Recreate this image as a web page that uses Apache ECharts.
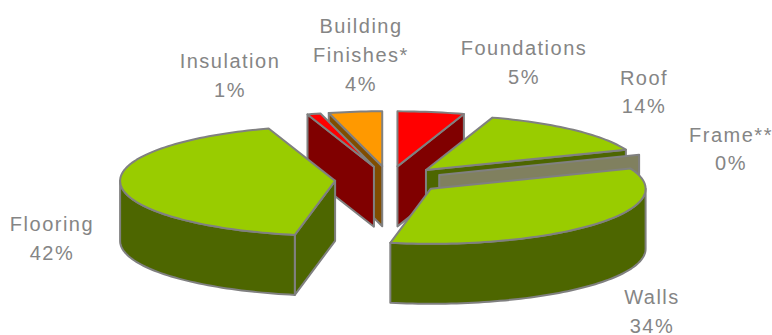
<!DOCTYPE html>
<html>
<head>
<meta charset="utf-8">
<style>
  html, body { margin: 0; padding: 0; background: #fff; }
  #chart { width: 772px; height: 335px; }
  #chart text { letter-spacing: 1.5px; }
</style>
<script src="https://cdn.jsdelivr.net/npm/echarts@6/dist/echarts.min.js"></script>
</head>
<body>
<div id="chart"></div>
<script>
// Share of embodied material by building element, percent.
const categories = ['Foundations', 'Roof', 'Frame**', 'Walls', 'Flooring', 'Insulation', 'Building\nFinishes*'];
const values = [5, 14, 0, 34, 42, 1, 4];
const topColors = ['#ff0000', '#99cc00', '#99cc00', '#99cc00', '#99cc00', '#ff0000', '#ff9900'];
const sideColors = ['#800000', '#4d6600', '#80805f', '#4d6600', '#4d6600', '#800000', '#804d00'];

// Label block centres, in page pixels.
const labelCentres = [[524, 62.5], [644, 92], [731, 149], [652, 311.5], [52, 238.5], [230, 75.5], [361, 55]];

// Projection of the tilted disc.
const cx = 389, cy = 180, radiusX = 215, radiusY = 55, depth = 60, explode = 54;
const edgeColor = '#808080';

const total = values.reduce((a, b) => a + b, 0);
const starts = [];
values.reduce((sum, v, i) => { starts[i] = sum; return sum + v; }, 0);

const rad = deg => deg * Math.PI / 180;
// Angles run clockwise from twelve o'clock.
const onDisc = (apex, deg) => [apex[0] + radiusX * Math.sin(rad(deg)), apex[1] - radiusY * Math.cos(rad(deg))];
const drop = p => [p[0], p[1] + depth];

function arcPoints(apex, from, to) {
  const pts = [];
  const steps = Math.max(1, Math.ceil((to - from) / 1.5));
  for (let k = 0; k <= steps; k++) pts.push(onDisc(apex, from + (to - from) * k / steps));
  return pts;
}

function renderSlice(params, api) {
  const i = api.value(0);
  const value = api.value(1);
  const from = starts[i] / total * 360;
  const to = (starts[i] + value) / total * 360;
  const mid = (from + to) / 2;
  const apex = [cx + explode * Math.sin(rad(mid)), cy - explode * radiusY / radiusX * Math.cos(rad(mid))];

  // Slices nearer the viewer are painted later.
  let z = Math.round((1 - Math.cos(rad(mid))) * 1000);
  const face = (points, fill) => ({
    type: 'polygon',
    z2: z++,
    shape: { points },
    style: { fill, stroke: edgeColor, lineWidth: 2, lineJoin: 'round' }
  });
  const children = [];
  const wall = deg => {
    const outer = onDisc(apex, deg);
    children.push(face([apex, outer, drop(outer), drop(apex)], sideColors[i]));
  };

  if (Math.sin(rad(from)) < -1e-6) wall(from);
  if (Math.sin(rad(to)) > 1e-6) wall(to);

  const arcFrom = Math.max(from, 90), arcTo = Math.min(to, 270);
  if (arcTo > arcFrom) {
    const rim = arcPoints(apex, arcFrom, arcTo);
    children.push(face(rim.concat(rim.map(drop).reverse()), sideColors[i]));
  }
  if (to > from) {
    children.push(face([apex].concat(arcPoints(apex, from, to)), topColors[i]));
  }

  children.push({
    type: 'text',
    z2: 5000,
    style: {
      text: categories[i] + '\n' + value + '%',
      x: labelCentres[i][0],
      y: labelCentres[i][1],
      fill: '#858585',
      font: '20px "Liberation Sans", Arial, sans-serif',
      lineHeight: 28.6,
      align: 'center',
      verticalAlign: 'middle'
    }
  });
  return { type: 'group', children };
}

const chart = echarts.init(document.getElementById('chart'), null, { renderer: 'svg' });
chart.setOption({
  animation: false,
  backgroundColor: '#ffffff',
  series: [{
    type: 'custom',
    coordinateSystem: 'none',
    silent: true,
    renderItem: renderSlice,
    encode: { value: 1 },
    data: categories.map((name, i) => [i, values[i]])
  }]
});
</script>
</body>
</html>
